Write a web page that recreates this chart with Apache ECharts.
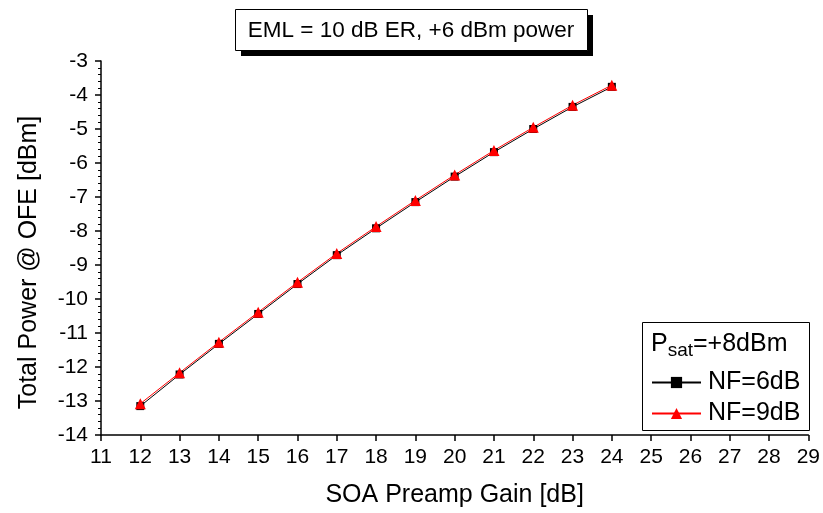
<!DOCTYPE html>
<html>
<head>
<meta charset="utf-8">
<script src="https://cdn.jsdelivr.net/npm/echarts@6/dist/echarts.min.js"></script>
<style>
  html, body { margin: 0; padding: 0; background: #fff; }
  #main { width: 823px; height: 513px; }
</style>
</head>
<body>
<div id="main"></div>
<script>
// SOA preamp gain [dB]
var gain = [12, 13, 14, 15, 16, 17, 18, 19, 20, 21, 22, 23, 24];
// total power @ OFE [dBm]
var nf6 = [-13.15, -12.22, -11.32, -10.44, -9.56, -8.71, -7.92, -7.15, -6.40, -5.68, -5.00, -4.35, -3.76];
var nf9 = [-13.08, -12.17, -11.27, -10.39, -9.51, -8.66, -7.87, -7.10, -6.35, -5.63, -4.95, -4.30, -3.71];

var font = 'Liberation Sans, Arial, sans-serif';

function pairs(xs, ys) {
  return xs.map(function (x, i) { return [x, ys[i]]; });
}

var chart = echarts.init(document.getElementById('main'));
chart.setOption({
  animation: false,
  backgroundColor: '#fff',
  grid: { left: 101, right: 14, top: 61, bottom: 76 },
  legend: {
    left: 651, top: 370,
    orient: 'vertical',
    padding: 0,
    itemGap: 6,
    itemWidth: 49, itemHeight: 14,
    textStyle: { fontFamily: font, fontSize: 25, color: '#000', padding: [0, 0, 0, 2] },
    data: ['NF=6dB', 'NF=9dB']
  },
  graphic: [
    // title box with hard shadow
    { type: 'rect', shape: { x: 241, y: 15, width: 352, height: 41 }, style: { fill: '#000' }, z: 100 },
    { type: 'rect', shape: { x: 235.5, y: 9.5, width: 352, height: 41 }, style: { fill: '#fff', stroke: '#000', lineWidth: 1 }, z: 101 },
    { type: 'text', x: 411, y: 30.5, z: 102,
      style: { text: 'EML = 10 dB ER, +6 dBm power', fontFamily: font, fontSize: 22.5, fill: '#000', align: 'center', verticalAlign: 'middle' } },
    // legend frame and header
    { type: 'rect', shape: { x: 642.5, y: 322.5, width: 167, height: 108 }, style: { fill: 'none', stroke: '#000', lineWidth: 1 }, z: 1 },
    { type: 'text', x: 651, y: 328, z: 100,
      style: {
        text: '{a|P}{b|sat}{a|=+8dBm}',
        rich: {
          a: { fontFamily: font, fontSize: 25, fill: '#000' },
          b: { fontFamily: font, fontSize: 19, fill: '#000', verticalAlign: 'bottom', padding: [13, 0, 0, 0] }
        }
      } }
  ],
  xAxis: {
    type: 'value',
    min: 11, max: 29, interval: 1,
    name: 'SOA Preamp Gain [dB]',
    nameLocation: 'middle', nameGap: 48,
    nameTextStyle: { fontFamily: font, fontSize: 25, color: '#000' },
    axisLine: { lineStyle: { color: '#000', width: 1.5 } },
    axisTick: { length: 6, lineStyle: { color: '#000', width: 1.5 } },
    axisLabel: { fontFamily: font, fontSize: 21, color: '#000', margin: 12 },
    splitLine: { show: false }
  },
  yAxis: {
    type: 'value',
    min: -14, max: -3, interval: 1,
    name: 'Total Power @ OFE [dBm]',
    nameLocation: 'middle', nameGap: 59,
    nameTextStyle: { fontFamily: font, fontSize: 25, color: '#000', padding: [0, 29, 0, 0] },
    axisLine: { show: true, lineStyle: { color: '#000', width: 1.5 } },
    axisTick: { length: 6, lineStyle: { color: '#000', width: 1.5 } },
    minorTick: { show: true, splitNumber: 5, length: 3, lineStyle: { color: '#000', width: 1 } },
    axisLabel: { fontFamily: font, fontSize: 21, color: '#000', margin: 13 },
    splitLine: { show: false }
  },
  series: [{
    name: 'NF=6dB',
    type: 'line',
    data: pairs(gain, nf6),
    symbol: 'rect', symbolSize: 8,
    lineStyle: { color: '#000', width: 1 },
    itemStyle: { color: '#000' }
  }, {
    name: 'NF=9dB',
    type: 'line',
    data: pairs(gain, nf9),
    symbol: 'triangle', symbolSize: 11,
    lineStyle: { color: '#f00', width: 1 },
    itemStyle: { color: '#f00' }
  }]
});
</script>
</body>
</html>
